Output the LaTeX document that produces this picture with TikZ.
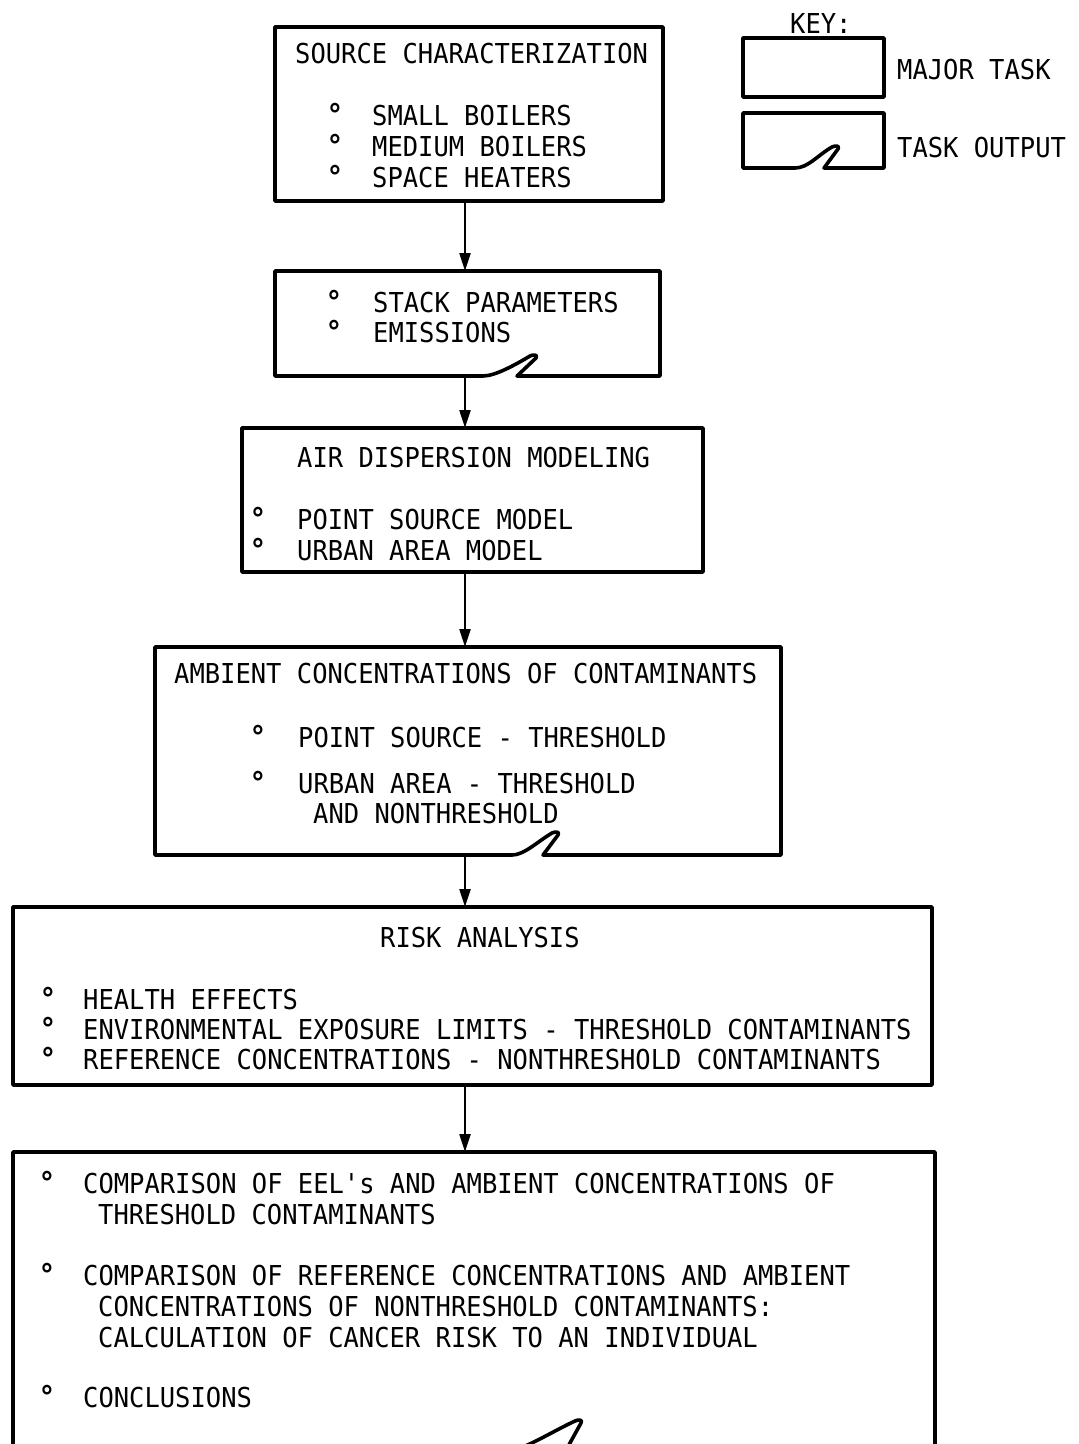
\documentclass[tikz,border=0pt]{standalone}
\usepackage{fontspec}
\setmonofont[FakeStretch=0.93]{DejaVu Sans Mono}
\usetikzlibrary{arrows.meta}
\begin{document}
\begin{tikzpicture}[x=1pt,y=-1pt,
  box/.style={draw, line width=3.6pt, line join=round, inner sep=0pt, outer sep=0pt},
  ghost/.style={inner sep=0pt, outer sep=0pt},
  outline/.style={draw, line width=3.6pt, line join=round},
  arr/.style={draw, line width=2.2pt, -{Triangle[length=18pt,width=11pt]}},
  txt/.style={anchor=base west, inner sep=0pt, font=\ttfamily\fontsize{27.4}{31}\selectfont},
  bul/.style={anchor=base, inner sep=0pt, font=\ttfamily\bfseries\fontsize{30}{31}\selectfont}]
\useasboundingbox (0,0) rectangle (1079,1444);
\clip (0,0) rectangle (1079,1444);
\fill[white] (0,0) rectangle (1079,1444);

% ---------- key ----------
\node[txt] (keyt) at (790,33) {KEY:};
\node[box, minimum width=141pt, minimum height=59pt] (kA) at (813.5,67.5) {};
\node[ghost, minimum width=141pt, minimum height=55pt] (kB) at (813.5,140.5) {};
\draw[outline] (743,113) -- (884,113) -- (884,168) -- (824,168) -- (838,149)
  .. controls (840,146) and (836,145) .. (832,147)
  .. controls (818,155) and (808,168) .. (795,168) -- (743,168) -- cycle;
\node[txt] (kAt) at (897,79) {MAJOR TASK};
\node[txt] (kBt) at (897,157) {TASK OUTPUT};

% ---------- box 1 ----------
\node[box, minimum width=388pt, minimum height=174pt] (b1) at (469,114) {};
\node[txt] (b1t) at (295,63) {SOURCE CHARACTERIZATION};
\node[bul] (b1b1) at (335,125) {°};
\node[bul] (b1b2) at (335,156) {°};
\node[bul] (b1b3) at (335,187) {°};
\node[txt] (b1i1) at (372,125) {SMALL BOILERS};
\node[txt] (b1i2) at (372,156) {MEDIUM BOILERS};
\node[txt] (b1i3) at (372,187) {SPACE HEATERS};

% ---------- box 2 (task output) ----------
\node[ghost, minimum width=385pt, minimum height=105pt] (b2) at (467.5,323.5) {};
\draw[outline] (275,271) -- (660,271) -- (660,376) -- (517,376) -- (536,358)
  .. controls (538,355) and (534,354) .. (530,356)
  .. controls (515,365) and (495,376) .. (483,376) -- (275,376) -- cycle;
\node[bul] (b2b1) at (334,312) {°};
\node[bul] (b2b2) at (334,342) {°};
\node[txt] (b2i1) at (373,312) {STACK PARAMETERS};
\node[txt] (b2i2) at (373,342) {EMISSIONS};

% ---------- box 3 ----------
\node[box, minimum width=461pt, minimum height=144pt] (b3) at (472.5,500) {};
\node[txt] (b3t) at (297,467) {AIR DISPERSION MODELING};
\node[bul] (b3b1) at (258,529) {°};
\node[bul] (b3b2) at (258,560) {°};
\node[txt] (b3i1) at (297,529) {POINT SOURCE MODEL};
\node[txt] (b3i2) at (297,560) {URBAN AREA MODEL};

% ---------- box 4 (task output) ----------
\node[ghost, minimum width=626pt, minimum height=208pt] (b4) at (468,751) {};
\draw[outline] (155,647) -- (781,647) -- (781,855) -- (543,855) -- (558,835)
  .. controls (560,832) and (556,831) .. (552,833)
  .. controls (537,842) and (524,855) .. (512,855) -- (155,855) -- cycle;
\node[txt] (b4t) at (174,683) {AMBIENT CONCENTRATIONS OF CONTAMINANTS};
\node[bul] (b4b1) at (258,747) {°};
\node[bul] (b4b2) at (258,793) {°};
\node[txt] (b4i1) at (298,747) {POINT SOURCE - THRESHOLD};
\node[txt] (b4i2) at (298,793) {URBAN AREA - THRESHOLD};
\node[txt] (b4i3) at (313,823) {AND NONTHRESHOLD};

% ---------- box 5 ----------
\node[box, minimum width=919pt, minimum height=178pt] (b5) at (472.5,996) {};
\node[txt] (b5t) at (380,947) {RISK ANALYSIS};
\node[bul] (b5b1) at (48,1009) {°};
\node[bul] (b5b2) at (48,1039) {°};
\node[bul] (b5b3) at (48,1069) {°};
\node[txt] (b5i1) at (83,1009) {HEALTH EFFECTS};
\node[txt] (b5i2) at (83,1039) {ENVIRONMENTAL EXPOSURE LIMITS - THRESHOLD CONTAMINANTS};
\node[txt] (b5i3) at (83,1069) {REFERENCE CONCENTRATIONS - NONTHRESHOLD CONTAMINANTS};

% ---------- box 6 (task output, cut off at page bottom) ----------
\node[ghost, minimum width=922pt, minimum height=300pt] (b6) at (474,1302) {};
\draw[outline] (13,1152) -- (935,1152) -- (935,1452) -- (565,1452) -- (581,1423)
  .. controls (583,1420) and (579,1419) .. (575,1421)
  .. controls (555,1430) and (520,1452) .. (505,1452) -- (13,1452) -- cycle;
\node[bul] (b6b1) at (47,1193) {°};
\node[bul] (b6b2) at (47,1285) {°};
\node[bul] (b6b3) at (47,1407) {°};
\node[txt] (b6i1) at (83,1193) {COMPARISON OF EEL's AND AMBIENT CONCENTRATIONS OF};
\node[txt] (b6i1b) at (98,1224) {THRESHOLD CONTAMINANTS};
\node[txt] (b6i2) at (83,1285) {COMPARISON OF REFERENCE CONCENTRATIONS AND AMBIENT};
\node[txt] (b6i2b) at (98,1316) {CONCENTRATIONS OF NONTHRESHOLD CONTAMINANTS:};
\node[txt] (b6i2c) at (98,1347) {CALCULATION OF CANCER RISK TO AN INDIVIDUAL};
\node[txt] (b6i3) at (83,1407) {CONCLUSIONS};

% ---------- connectors ----------
\coordinate (ax) at (465,0);
\draw[arr] (b1.south -| ax) -- (b2.north -| ax);
\draw[arr] (b2.south -| ax) -- (b3.north -| ax);
\draw[arr] (b3.south -| ax) -- (b4.north -| ax);
\draw[arr] (b4.south -| ax) -- (b5.north -| ax);
\draw[arr] (b5.south -| ax) -- (b6.north -| ax);
\end{tikzpicture}
\end{document}
